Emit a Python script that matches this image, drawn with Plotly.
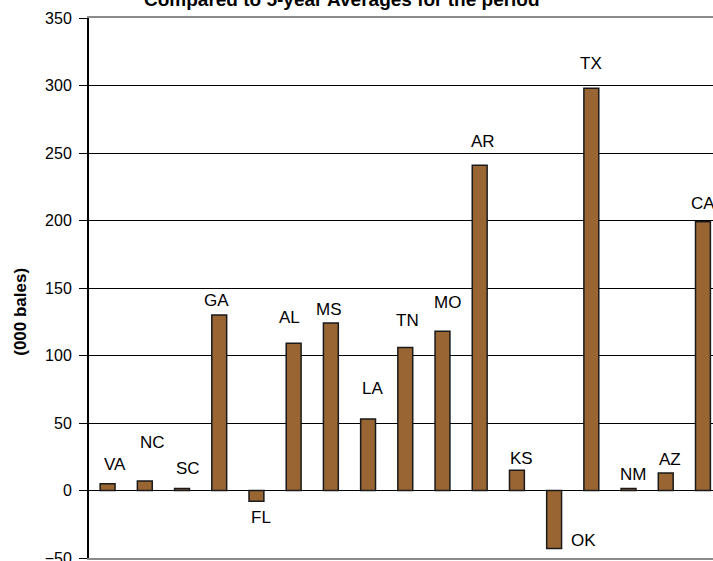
import plotly.graph_objects as go

# Cotton production change by state (000 bales)
states = ["VA", "NC", "SC", "GA", "FL", "AL", "MS", "LA", "TN", "MO",
          "AR", "KS", "OK", "TX", "NM", "AZ", "CA"]
change = [5, 7, 1.5, 130, -8, 109, 124, 53, 106, 118,
          241, 15, -43, 298, 1.5, 13, 199]
y_ticks = [-50, 0, 50, 100, 150, 200, 250, 300, 350]

# label placement relative to the bar end, in pixels
label_dx = [7, 8, 6, -3, 5, -4, -2, 4, 2, 5, 3, 5, 29, 0, 4, 4, 0]
label_dy = [19, 39, 20, 15, -16, 26, 14, 30, 27, 29, 24, 12, 8, 25, 14, 13, 18]

BAR = "#996633"
FONT = "Liberation Sans, Arial, sans-serif"

fig = go.Figure()
fig.add_trace(go.Bar(
    x=states, y=change, width=0.4,
    marker=dict(color=BAR, line=dict(color="#1a1a1a", width=1.5)),
    showlegend=False,
))

annotations = []
for s, v, dx, dy in zip(states, change, label_dx, label_dy):
    annotations.append(dict(
        x=s, y=v, xref="x", yref="y", text=s, showarrow=False,
        xanchor="center", yanchor="middle", xshift=dx, yshift=dy,
        font=dict(family=FONT, size=17, color="black"),
    ))

annotations.append(dict(
    x=-68 / 624, y=0.456, xref="paper", yref="paper", text="<b>(000 bales)</b>",
    showarrow=False, textangle=-90, xanchor="center", yanchor="middle",
    font=dict(family=FONT, size=17, color="black"),
))
annotations.append(dict(
    x=253 / 624, y=1.0, xref="paper", yref="paper",
    text="<b>Compared to 5-year Averages for the period</b>",
    showarrow=False, xanchor="center", yanchor="middle", yshift=19,
    font=dict(family=FONT, size=19, color="black"),
))

fig.update_layout(
    width=713, height=561,
    margin=dict(l=89, r=0, t=18, b=3, pad=0, autoexpand=False),
    paper_bgcolor="white", plot_bgcolor="white",
    annotations=annotations,
    bargap=0.6,
    xaxis=dict(
        type="category", range=[-0.5, 16.27], showticklabels=False,
        ticks="", showgrid=False, zeroline=False, automargin=False,
        showline=True, linecolor="#8a8a8a", linewidth=2, mirror=True,
    ),
    yaxis=dict(
        range=[-50, 350], tickvals=y_ticks, automargin=False,
        ticks="outside", ticklen=8, tickcolor="black", tickwidth=1,
        tickfont=dict(family=FONT, size=16, color="black"),
        ticklabeloverflow="allow", ticklabelstandoff=4,
        showgrid=True, gridcolor="black", gridwidth=1,
        zeroline=False, showline=True, linecolor="black", linewidth=2,
    ),
)

fig.write_html("out.html")
